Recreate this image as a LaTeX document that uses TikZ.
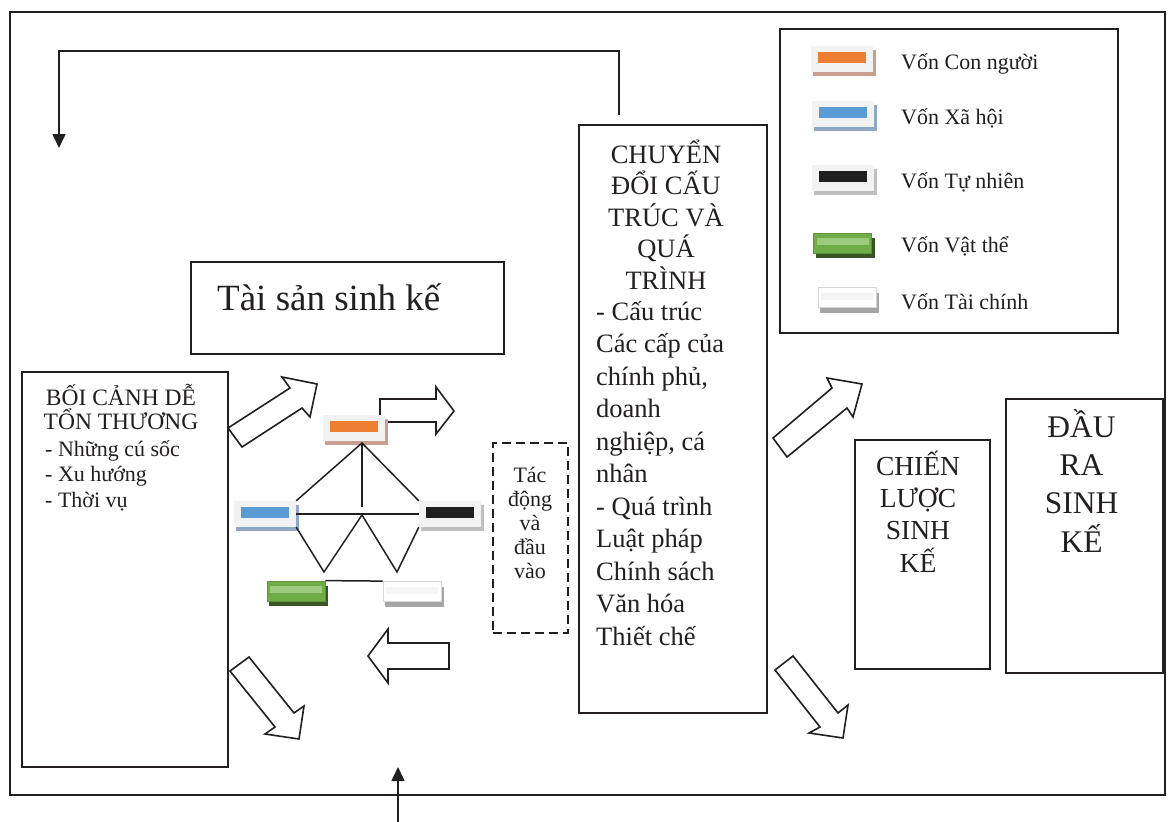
\documentclass[tikz,border=0pt]{standalone}
\usepackage{fontspec}
\setmainfont{Liberation Serif}
\usetikzlibrary{arrows.meta,positioning}

\definecolor{ink}{HTML}{231F20}
\definecolor{swatchGray}{HTML}{F2F2F2}
\definecolor{capOrange}{HTML}{ED7D31}
\definecolor{capOrangeSh}{HTML}{C9A08E}
\definecolor{capBlue}{HTML}{5B9BD5}
\definecolor{capBlueSh}{HTML}{8FA9C4}
\definecolor{capBlack}{HTML}{1E1E1E}
\definecolor{capBlackSh}{HTML}{BFBFBF}
\definecolor{capGreen}{HTML}{70AD47}
\definecolor{capGreenHi}{HTML}{9CCB7E}
\definecolor{capGreenSh}{HTML}{375623}
\definecolor{capSilver}{HTML}{D6D6D6}
\definecolor{capSilverSh}{HTML}{A6A6A6}

\tikzset{
  frame/.style={draw=ink, line width=1.6pt},
  box/.style={draw=ink, line width=1.6pt, fill=white, inner sep=0pt, anchor=north west},
  txt/.style={inner sep=0pt, text=ink},
  hollow/.style={draw=ink, line width=1.6pt, fill=white, line join=miter},
  net/.style={draw=ink, line width=1.5pt},
  flow/.style={draw=ink, line width=1.6pt, -{Triangle[length=14pt,width=13pt]}},
  swatchbg/.style={fill=swatchGray, minimum width=62pt, minimum height=26pt, inner sep=0pt},
}

% capital swatch: name, centre, bar colour, shadow colour
\newcommand{\capswatch}[4]{%
  \begin{scope}[shift={#2}]
    \fill[#4] (-29,-9) rectangle (34,17);
    \node[swatchbg] (#1) at (0,0) {};
    \fill[#3] (-24,-7) rectangle (24,4);
  \end{scope}}

% raised bar swatch: name, centre, fill, highlight, border, shadow colour
\newcommand{\barswatch}[6]{%
  \begin{scope}[shift={#2}]
    \fill[#6] (-27,-5) rectangle (32,15);
    \node[fill=#3, draw=#5, line width=0.8pt, minimum width=58pt,
          minimum height=20pt, inner sep=0pt] (#1) at (0,0) {};
    \fill[#4] (-26,-5) rectangle (26,2);
  \end{scope}}

\begin{document}
\begin{tikzpicture}[x=1pt, y=-1pt]
  \useasboundingbox (0,0) rectangle (1176,822);
  \fill[white] (0,0) rectangle (1176,822);

  % outer frame
  \draw[frame] (10,12) rectangle (1165,795);

  % main boxes
  \node[box, minimum width=206pt, minimum height=395pt] (vuln) at (21,371) {};
  \node[box, minimum width=313pt, minimum height=92pt] (assets) at (190,261) {};
  \node[box, minimum width=188pt, minimum height=588pt] (chuyen) at (578,124) {};
  \node[box, minimum width=338pt, minimum height=304pt] (legend) at (779,28) {};
  \node[box, minimum width=135pt, minimum height=229pt] (strategy) at (854,439) {};
  \node[box, minimum width=157pt, minimum height=274pt] (outcome) at (1005,398) {};
  \node[box, line width=2.2pt, dash pattern=on 9pt off 5pt, minimum width=75pt, minimum height=190pt] (impact) at (492,442) {};

  % texts (multi-line nodes sit on the baseline of their last line)
  \node[txt, font=\fontsize{23.5}{24}\selectfont, align=center, anchor=base] (vulnT) at (121,429) {BỐI CẢNH DỄ\\TỔN THƯƠNG};
  \node[txt, font=\fontsize{22}{25.5}\selectfont, align=left, anchor=base west] (vulnB) at (45,507) {- Những cú sốc\\- Xu hướng\\- Thời vụ};
  \node[txt, font=\fontsize{37}{40}\selectfont, anchor=base west] (assetsT) at (217,310) {Tài sản sinh kế};
  \node[txt, font=\fontsize{26.5}{31.5}\selectfont, align=center, anchor=base] (chuyenT) at (666,289) {CHUYỂN\\ĐỔI CẤU\\TRÚC VÀ\\QUÁ\\TRÌNH};
  \node[txt, font=\fontsize{26.5}{32.5}\selectfont, align=left, anchor=base west] (chuyenB) at (596,645)
    {- Cấu trúc\\Các cấp của\\chính phủ,\\doanh\\nghiệp, cá\\nhân\\- Quá trình\\Luật pháp\\Chính sách\\Văn hóa\\Thiết chế};
  \node[txt, font=\fontsize{22}{23.8}\selectfont, align=center, anchor=base] (impactT) at (530,578) {Tác\\động\\và\\đầu\\vào};
  \node[txt, font=\fontsize{27.5}{32.2}\selectfont, align=center, anchor=base] (strategyT) at (918,572) {CHIẾN\\LƯỢC\\SINH\\KẾ};
  \node[txt, font=\fontsize{31.5}{38.1}\selectfont, align=center, anchor=base] (outcomeT) at (1081.5,552) {ĐẦU\\RA\\SINH\\KẾ};

  % legend
  \capswatch{keyHuman}{(842,58.5)}{capOrange}{capOrangeSh}
  \capswatch{keySocial}{(843,114)}{capBlue}{capBlueSh}
  \capswatch{keyNatural}{(843,178)}{capBlack}{capBlackSh}
  \barswatch{keyPhysical}{(842.5,243)}{capGreen}{capGreenHi}{capGreen!85!black}{capGreenSh}
  \barswatch{keyFinancial}{(847,297.5)}{white}{white!92!gray}{capSilver}{capSilverSh}
  \foreach \ty/\lbl in {69.3/Vốn Con người, 124.3/Vốn Xã hội, 188.3/Vốn Tự nhiên,
                         252.7/Vốn Vật thể, 309.3/Vốn Tài chính}
    \node[txt, font=\fontsize{22}{24}\selectfont, anchor=base west] at (901,\ty) {\lbl};

  % hollow block arrows
  \draw[hollow] (228,428) -- (290,388) -- (282,377) -- (317,384) -- (310,417) -- (302,408) -- (242,447) -- cycle;
  \draw[hollow] (380,399) -- (436,399) -- (436,387) -- (454,411) -- (436,434) -- (436,422) -- (380,422) -- cycle;
  \draw[hollow] (230,671) -- (249,657) -- (294,713) -- (304,706) -- (299,739) -- (265,734) -- (275,727) -- cycle;
  \draw[hollow] (368,656) -- (388,629) -- (388,643) -- (449,643) -- (449,669) -- (388,669) -- (388,683) -- cycle;
  \draw[hollow] (773,438) -- (832,388) -- (827,378) -- (862,384) -- (853,417) -- (847,408) -- (787,457) -- cycle;
  \draw[hollow] (775,670) -- (793,656) -- (838,713) -- (848,705) -- (843,738) -- (809,733) -- (820,727) -- cycle;

  % capital pentagon
  \capswatch{human}{(353.5,427.5)}{capOrange}{capOrangeSh}
  \capswatch{social}{(265,514)}{capBlue}{capBlueSh}
  \capswatch{natural}{(450,514)}{capBlack}{capBlackSh}
  \barswatch{physical}{(296,591)}{capGreen}{capGreenHi}{capGreen!85!black}{capGreenSh}
  \barswatch{financial}{(412,591.5)}{white}{white!92!gray}{capSilver}{capSilverSh}

  \coordinate (apex) at (362,443);
  \coordinate (hub) at (362,515);
  \coordinate (wl) at (324,572);
  \coordinate (wr) at (397,572);
  \draw[net] (social.north east) -- (apex) -- (natural.north west);
  \draw[net] (apex) -- (362,507);
  \draw[net] (social.east) -- (natural.west);
  \draw[net] (social.south east) -- (wl) -- (hub) -- (wr) -- (natural.south west);
  \draw[net] (physical.north east) -- (financial.north west);

  % feedback and input arrows
  \coordinate (fbStart) at (619,115);
  \coordinate (fbEnd) at (59,148);
  \draw[flow] (fbStart) |- (59,51) -- (fbEnd);
  \coordinate (inBot) at (398,822);
  \coordinate (inTip) at (398,767);
  \draw[flow] (inBot) -- (inTip);
\end{tikzpicture}
\end{document}
